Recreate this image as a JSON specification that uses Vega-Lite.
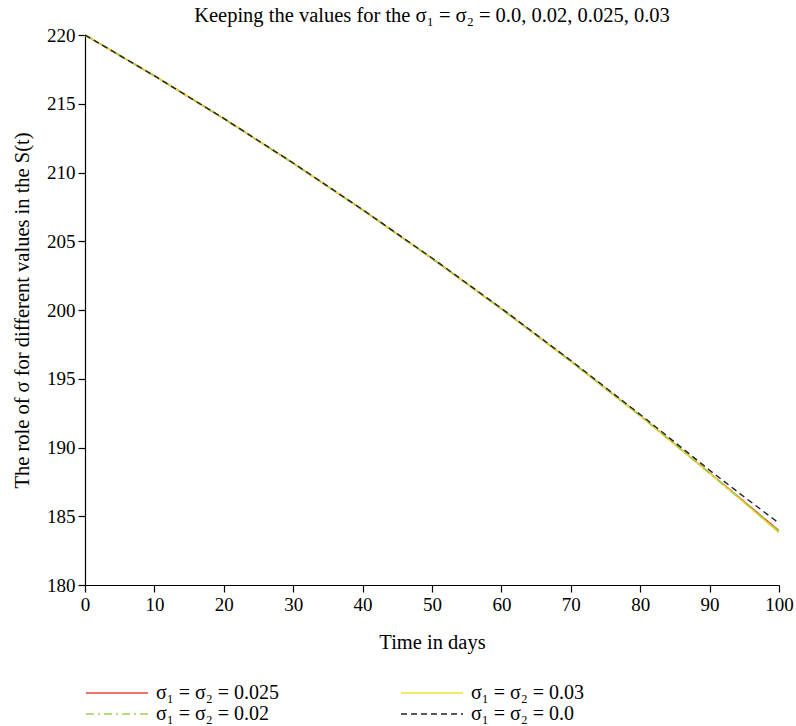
{
  "$schema": "https://vega.github.io/schema/vega-lite/v6.json",
  "autosize": "none",
  "width": 694,
  "height": 550,
  "padding": {"left": 85, "top": 35, "right": 17, "bottom": 141},
  "background": "white",
  "config": {
    "font": "Liberation Serif",
    "view": {"stroke": null},
    "axis": {"grid": false, "domainColor": "black", "tickColor": "black", "labelColor": "black", "titleColor": "black", "labelFont": "Liberation Serif", "titleFont": "Liberation Serif", "labelFontSize": 19, "titleFontSize": 20.5, "titleFontWeight": "normal", "tickSize": 7, "domainWidth": 1.2, "tickWidth": 1.2, "labelFlush": false},
    "legend": {"labelFont": "Liberation Serif", "labelFontSize": 20, "labelColor": "black"},
    "title": {"font": "Liberation Serif", "fontSize": 20.5, "fontWeight": "normal", "color": "black"}
  },
  "title": {"text": "Keeping the values for the σ₁ = σ₂ = 0.0, 0.02, 0.025, 0.03", "offset": 0},
  "data": {"values": [
    {"series": "σ₁ = σ₂ = 0.025", "t": 0, "S": 220.0},
    {"series": "σ₁ = σ₂ = 0.025", "t": 10, "S": 217.03},
    {"series": "σ₁ = σ₂ = 0.025", "t": 20, "S": 213.92},
    {"series": "σ₁ = σ₂ = 0.025", "t": 30, "S": 210.67},
    {"series": "σ₁ = σ₂ = 0.025", "t": 40, "S": 207.28},
    {"series": "σ₁ = σ₂ = 0.025", "t": 50, "S": 203.75},
    {"series": "σ₁ = σ₂ = 0.025", "t": 60, "S": 200.08},
    {"series": "σ₁ = σ₂ = 0.025", "t": 70, "S": 196.27},
    {"series": "σ₁ = σ₂ = 0.025", "t": 80, "S": 192.32},
    {"series": "σ₁ = σ₂ = 0.025", "t": 90, "S": 188.15},
    {"series": "σ₁ = σ₂ = 0.025", "t": 95, "S": 186.05},
    {"series": "σ₁ = σ₂ = 0.025", "t": 100, "S": 183.95},
    {"series": "σ₁ = σ₂ = 0.03", "t": 0, "S": 220.0},
    {"series": "σ₁ = σ₂ = 0.03", "t": 10, "S": 217.03},
    {"series": "σ₁ = σ₂ = 0.03", "t": 20, "S": 213.92},
    {"series": "σ₁ = σ₂ = 0.03", "t": 30, "S": 210.67},
    {"series": "σ₁ = σ₂ = 0.03", "t": 40, "S": 207.28},
    {"series": "σ₁ = σ₂ = 0.03", "t": 50, "S": 203.75},
    {"series": "σ₁ = σ₂ = 0.03", "t": 60, "S": 200.08},
    {"series": "σ₁ = σ₂ = 0.03", "t": 70, "S": 196.27},
    {"series": "σ₁ = σ₂ = 0.03", "t": 80, "S": 192.3},
    {"series": "σ₁ = σ₂ = 0.03", "t": 90, "S": 188.12},
    {"series": "σ₁ = σ₂ = 0.03", "t": 95, "S": 185.98},
    {"series": "σ₁ = σ₂ = 0.03", "t": 100, "S": 183.8},
    {"series": "σ₁ = σ₂ = 0.02", "t": 0, "S": 220.0},
    {"series": "σ₁ = σ₂ = 0.02", "t": 10, "S": 217.03},
    {"series": "σ₁ = σ₂ = 0.02", "t": 20, "S": 213.92},
    {"series": "σ₁ = σ₂ = 0.02", "t": 30, "S": 210.67},
    {"series": "σ₁ = σ₂ = 0.02", "t": 40, "S": 207.28},
    {"series": "σ₁ = σ₂ = 0.02", "t": 50, "S": 203.75},
    {"series": "σ₁ = σ₂ = 0.02", "t": 60, "S": 200.08},
    {"series": "σ₁ = σ₂ = 0.02", "t": 70, "S": 196.27},
    {"series": "σ₁ = σ₂ = 0.02", "t": 80, "S": 192.31},
    {"series": "σ₁ = σ₂ = 0.02", "t": 90, "S": 188.14},
    {"series": "σ₁ = σ₂ = 0.02", "t": 95, "S": 186.02},
    {"series": "σ₁ = σ₂ = 0.02", "t": 100, "S": 183.9},
    {"series": "σ₁ = σ₂ = 0.0", "t": 0, "S": 220.0},
    {"series": "σ₁ = σ₂ = 0.0", "t": 10, "S": 217.03},
    {"series": "σ₁ = σ₂ = 0.0", "t": 20, "S": 213.93},
    {"series": "σ₁ = σ₂ = 0.0", "t": 30, "S": 210.69},
    {"series": "σ₁ = σ₂ = 0.0", "t": 40, "S": 207.3},
    {"series": "σ₁ = σ₂ = 0.0", "t": 50, "S": 203.78},
    {"series": "σ₁ = σ₂ = 0.0", "t": 60, "S": 200.12},
    {"series": "σ₁ = σ₂ = 0.0", "t": 70, "S": 196.33},
    {"series": "σ₁ = σ₂ = 0.0", "t": 80, "S": 192.4},
    {"series": "σ₁ = σ₂ = 0.0", "t": 90, "S": 188.35},
    {"series": "σ₁ = σ₂ = 0.0", "t": 95, "S": 186.4},
    {"series": "σ₁ = σ₂ = 0.0", "t": 100, "S": 184.5}
  ]},
  "encoding": {
    "x": {"field": "t", "type": "quantitative", "scale": {"domain": [0, 100], "nice": false}, "axis": {"title": "Time in days", "values": [0,10,20,30,40,50,60,70,80,90,100], "labelPadding": 3, "titlePadding": 18}},
    "y": {"field": "S", "type": "quantitative", "scale": {"domain": [180, 220], "nice": false, "zero": false}, "axis": {"title": "The role of σ for different values in the S(t)", "values": [180,185,190,195,200,205,210,215,220], "labelPadding": 3, "titlePadding": 14}},
    "color": {"field": "series", "type": "nominal", "scale": {"domain": ["σ₁ = σ₂ = 0.025", "σ₁ = σ₂ = 0.02", "σ₁ = σ₂ = 0.03", "σ₁ = σ₂ = 0.0"], "range": ["#e8453c", "#9fd147", "#f0e03a", "#222222"]}, "legend": {"title": null, "orient": "none", "legendX": 0, "legendY": 647, "columns": 2, "columnPadding": 118, "rowPadding": 0, "symbolType": "M-1,0H5.2", "symbolSize": 400, "symbolStrokeWidth": 1.5, "symbolOpacity": 1, "symbolFillColor": "transparent", "labelOffset": 49}},
    "strokeDash": {"field": "series", "type": "nominal", "scale": {"domain": ["σ₁ = σ₂ = 0.025", "σ₁ = σ₂ = 0.02", "σ₁ = σ₂ = 0.03", "σ₁ = σ₂ = 0.0"], "range": [[1, 0], [8, 4, 2, 4], [1, 0], [6, 4]]}, "legend": null}
  },
  "layer": [
    {"transform": [{"filter": "datum.series !== 'σ₁ = σ₂ = 0.0'"}], "mark": {"type": "line", "strokeWidth": 1.6}},
    {"transform": [{"filter": "datum.series === 'σ₁ = σ₂ = 0.0'"}], "mark": {"type": "line", "strokeWidth": 1.4}}
  ]
}
